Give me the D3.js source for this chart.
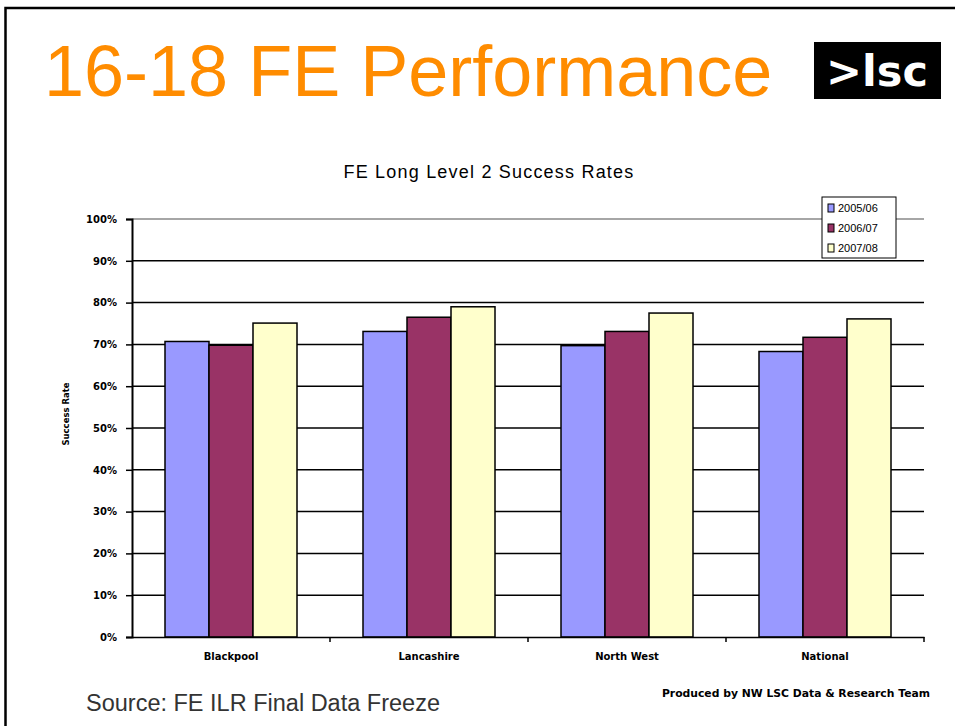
<!DOCTYPE html>
<html>
<head>
<meta charset="utf-8">
<script src="https://cdn.jsdelivr.net/npm/d3@7"></script>
<style>
  body { margin: 0; background: #fff; }
  svg { display: block; font-family: "Liberation Sans", Arial, sans-serif; }
</style>
</head>
<body>
<div id="vis"></div>
<script>
// data
const CATEGORIES = ['Blackpool', 'Lancashire', 'North West', 'National'];
const SERIES = ['2005/06', '2006/07', '2007/08'];
const VALUES_0506 = [70.7, 73.1, 69.7, 68.3];
const VALUES_0607 = [69.8, 76.5, 73.1, 71.7];
const VALUES_0708 = [75.1, 79.0, 77.5, 76.1];
const Y_TICKS = [0, 10, 20, 30, 40, 50, 60, 70, 80, 90, 100];
const COLORS = ['#9999ff', '#993366', '#ffffcc'];

const FRAME_WIDTH = 955;
const FRAME_HEIGHT = 726;
const MARGINS = {left: 132, right: 31, top: 219, bottom: 89};
const VIS_WIDTH = FRAME_WIDTH - MARGINS.left - MARGINS.right;
const VIS_HEIGHT = FRAME_HEIGHT - MARGINS.top - MARGINS.bottom;
const SMALL_FONT = '"DejaVu Sans", sans-serif';

const FRAME = d3.select('#vis')
                .append('svg')
                    .attr('width', FRAME_WIDTH)
                    .attr('height', FRAME_HEIGHT);

// slide border
FRAME.append('path')
    .attr('d', 'M5.5,726 L5.5,8 L955,8')
    .attr('fill', 'none')
    .attr('stroke', '#000')
    .attr('stroke-width', 2.5);

// slide title
FRAME.append('text')
    .attr('x', 44)
    .attr('y', 96)
    .attr('font-size', 72)
    .attr('fill', '#ff8c00')
    .text('16-18 FE Performance');

// logo
FRAME.append('rect')
    .attr('x', 814).attr('y', 42)
    .attr('width', 127).attr('height', 57)
    .attr('fill', '#000');
FRAME.append('text')
    .attr('x', 877).attr('y', 86)
    .attr('text-anchor', 'middle')
    .attr('font-family', SMALL_FONT)
    .attr('font-weight', 'bold')
    .attr('font-size', 43)
    .attr('fill', '#fff')
    .text('>lsc');

// chart title
FRAME.append('text')
    .attr('x', 489).attr('y', 178)
    .attr('text-anchor', 'middle')
    .attr('font-size', 18)
    .attr('letter-spacing', 1.2)
    .attr('fill', '#000')
    .text('FE Long Level 2 Success Rates');

const data = CATEGORIES.map((c, i) => ({
    label: c,
    values: [VALUES_0506[i], VALUES_0607[i], VALUES_0708[i]]
}));

// scales
const X_SCALE = d3.scaleBand()
    .domain(CATEGORIES)
    .range([0, VIS_WIDTH]);

const X_INNER = d3.scaleBand()
    .domain(SERIES)
    .range([0, X_SCALE.bandwidth()])
    .paddingOuter(0.75);

const Y_SCALE = d3.scaleLinear()
    .domain([0, 100])
    .range([VIS_HEIGHT, 0]);

const PLOT = FRAME.append('g')
    .attr('transform', 'translate(' + MARGINS.left + ',' + MARGINS.top + ')');

// gridlines
PLOT.selectAll('.grid')
    .data(Y_TICKS.filter(t => t > 0))
    .enter()
    .append('line')
    .attr('x1', 0)
    .attr('x2', VIS_WIDTH)
    .attr('y1', d => Y_SCALE(d))
    .attr('y2', d => Y_SCALE(d))
    .attr('stroke', d => d === 100 ? '#888' : '#000')
    .attr('stroke-width', 1.5);

// bars
const groups = PLOT.selectAll('.group')
    .data(data)
    .enter()
    .append('g')
    .attr('transform', d => 'translate(' + X_SCALE(d.label) + ',0)');

groups.selectAll('rect')
    .data(d => d.values.map((v, i) => ({series: SERIES[i], value: v, idx: i})))
    .enter()
    .append('rect')
    .attr('x', d => X_INNER(d.series))
    .attr('width', X_INNER.bandwidth())
    .attr('y', d => Y_SCALE(d.value))
    .attr('height', d => VIS_HEIGHT - Y_SCALE(d.value))
    .attr('fill', d => COLORS[d.idx])
    .attr('stroke', '#000')
    .attr('stroke-width', 1.5);

// y axis
const yAxis = PLOT.append('g')
    .call(d3.axisLeft(Y_SCALE)
        .tickValues(Y_TICKS)
        .tickSize(6)
        .tickPadding(9)
        .tickFormat(d => d + '%'));
yAxis.select('.domain').attr('stroke-width', 2);
yAxis.selectAll('.tick line').attr('stroke-width', 1.5);
yAxis.selectAll('text')
    .attr('font-size', 10)
    .attr('font-weight', 'bold')
    .attr('font-family', SMALL_FONT);

// x axis
const xAxis = PLOT.append('g')
    .attr('transform', 'translate(0,' + VIS_HEIGHT + ')')
    .call(d3.axisBottom(X_SCALE).tickSize(0).tickPadding(16));
xAxis.select('.domain').attr('stroke-width', 1.5);
xAxis.selectAll('text')
    .attr('font-size', 10)
    .attr('font-weight', 'bold')
    .attr('font-family', SMALL_FONT);

// category separators
xAxis.selectAll('.sep')
    .data(CATEGORIES.slice(1).concat(['end']))
    .enter()
    .append('line')
    .attr('x1', d => d === 'end' ? VIS_WIDTH : X_SCALE(d))
    .attr('x2', d => d === 'end' ? VIS_WIDTH : X_SCALE(d))
    .attr('y1', 0)
    .attr('y2', 5)
    .attr('stroke', '#000')
    .attr('stroke-width', 1.5);

// y axis title
FRAME.append('text')
    .attr('transform', 'translate(69,414) rotate(-90)')
    .attr('text-anchor', 'middle')
    .attr('font-size', 8.5)
    .attr('font-weight', 'bold')
    .attr('font-family', SMALL_FONT)
    .text('Success Rate');

// legend
const LEGEND = FRAME.append('g')
    .attr('transform', 'translate(822,197)');
LEGEND.append('rect')
    .attr('width', 74).attr('height', 61)
    .attr('fill', '#fff')
    .attr('stroke', '#000')
    .attr('stroke-width', 1);
const items = LEGEND.selectAll('.item')
    .data(SERIES)
    .enter()
    .append('g')
    .attr('transform', (d, i) => 'translate(6,' + (11 + i * 20) + ')');
items.append('rect')
    .attr('x', 0).attr('y', -4)
    .attr('width', 6).attr('height', 8)
    .attr('fill', (d, i) => COLORS[i])
    .attr('stroke', '#000')
    .attr('stroke-width', 1);
items.append('text')
    .attr('x', 10).attr('y', 4)
    .attr('font-size', 11)
    .attr('fill', '#000')
    .text(d => d);

// footer
FRAME.append('text')
    .attr('x', 86).attr('y', 711)
    .attr('font-size', 23.5)
    .attr('fill', '#333')
    .text('Source: FE ILR Final Data Freeze');

FRAME.append('text')
    .attr('x', 930).attr('y', 697)
    .attr('text-anchor', 'end')
    .attr('font-size', 10.8)
    .attr('font-weight', 'bold')
    .attr('font-family', SMALL_FONT)
    .text('Produced by NW LSC Data & Research Team');
</script>
</body>
</html>
